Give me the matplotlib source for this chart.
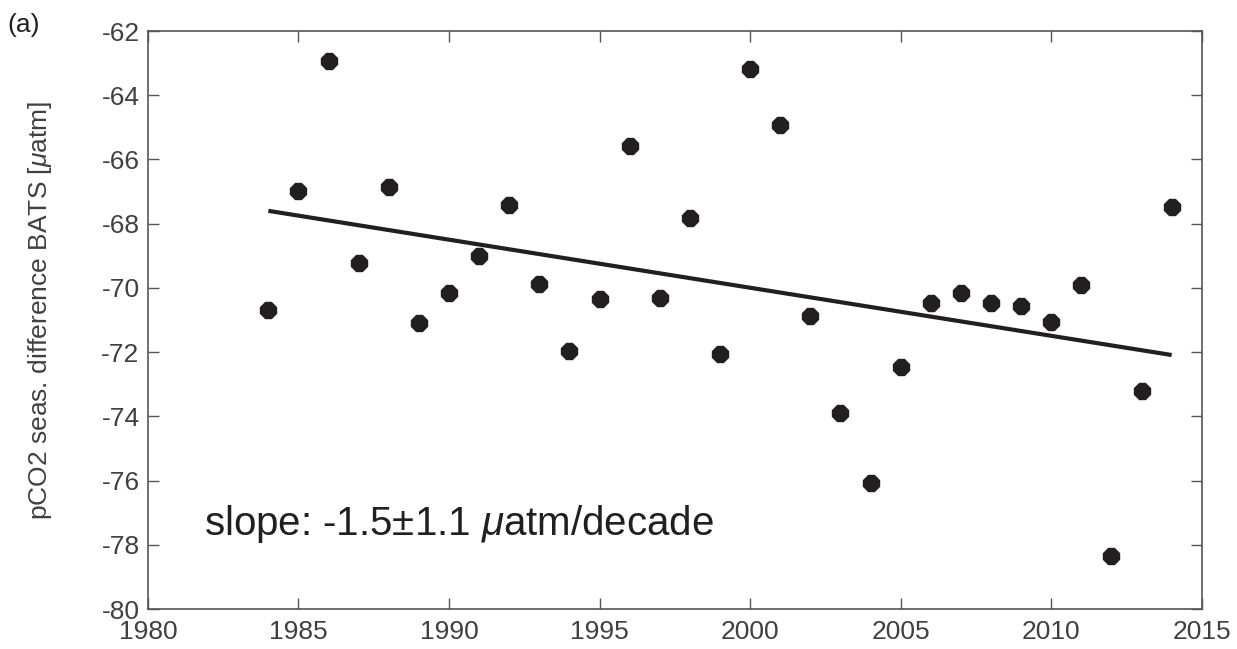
import numpy as np
import matplotlib
matplotlib.use('Agg')
import matplotlib.pyplot as plt

plt.rcParams['font.family'] = ['Liberation Sans', 'DejaVu Sans']
plt.rcParams['mathtext.fontset'] = 'custom'
plt.rcParams['mathtext.rm'] = 'Liberation Sans'
plt.rcParams['mathtext.it'] = 'Liberation Sans:italic'

#### DATOS ####
anios = np.arange(1984, 2015)
dif_pco2 = [-70.69, -66.97, -62.92, -69.22, -66.85, -71.09, -70.17, -69.01, -67.42, -69.89,
            -71.96, -70.34, -65.57, -70.30, -67.83, -72.06, -63.17, -64.93, -70.86, -73.88,
            -76.07, -72.46, -70.46, -70.15, -70.46, -70.55, -71.07, -69.90, -78.36, -73.22,
            -67.49]

# recta de tendencia (extremos)
tend_anios = [1984, 2014]
tend_valores = [-67.60, -72.09]

x_ticks = [1980, 1985, 1990, 1995, 2000, 2005, 2010, 2015]
y_ticks = [-80, -78, -76, -74, -72, -70, -68, -66, -64, -62]

color_punto = '#231f20'
color_eje = '#555555'
color_texto = '#404040'

#### FIGURA ####
fig = plt.figure(figsize=(12.37, 6.49), dpi=100)
ax = fig.add_axes([0.1196, 0.0616, 0.9715 - 0.1196, 0.9522 - 0.0616])

ax.plot(tend_anios, tend_valores, color=color_punto, lw=3, solid_capstyle='butt', zorder=2)
ax.plot(anios, dif_pco2, linestyle='none', marker='8', ms=13, color=color_punto, zorder=3)

ax.set_xlim(1980, 2015)
ax.set_ylim(-80, -62)
ax.set_xticks(x_ticks)
ax.set_yticks(y_ticks)
ax.set_yticklabels([str(v) for v in y_ticks])

ax.tick_params(direction='in', length=8, width=1, color=color_eje,
               labelsize=19, labelcolor=color_texto, top=True, right=True)
ax.tick_params(axis='x', pad=8)
ax.tick_params(axis='y', pad=6)
for s in ax.spines.values():
    s.set_color(color_eje)
    s.set_linewidth(1.2)

ax.set_ylabel(r'pCO2 seas. difference BATS [$\mathit{\mu}$atm]', fontsize=19,
              color=color_texto)
ax.yaxis.set_label_coords(-0.089, 0.517)

ax.text(1981.85, -77.70, r'slope: -1.5$\pm$1.1 $\mathit{\mu}$atm/decade', fontsize=29,
        color=color_punto, va='baseline', ha='left')

fig.text(0.006, 0.961, '(a)', fontsize=19, color=color_punto, ha='left', va='center')

plt.savefig('out.png', dpi=100)
plt.close(fig)
